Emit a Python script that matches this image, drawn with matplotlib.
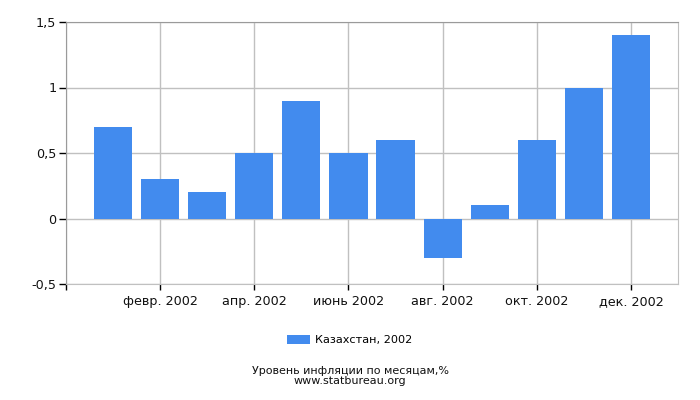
import numpy as np
import matplotlib
matplotlib.use("Agg")
import matplotlib.pyplot as plt

# ---------- DATA ----------
months = ["янв. 2002", "февр. 2002", "март 2002", "апр. 2002", "май 2002", "июнь 2002",
          "июль 2002", "авг. 2002", "сент. 2002", "окт. 2002", "нояб. 2002", "дек. 2002"]
values = [0.7, 0.3, 0.2, 0.5, 0.9, 0.5, 0.6, -0.3, 0.1, 0.6, 1.0, 1.4]
series_name = "Казахстан, 2002"
y_ticks = [-0.5, 0, 0.5, 1, 1.5]
y_labels = ["-0,5", "0", "0,5", "1", "1,5"]
title = "Уровень инфляции по месяцам,%\nwww.statbureau.org"
# --------------------------

BAR_COLOR = "#428bee"
GRID_COLOR = "#c0c0c0"
plt.rcParams["font.family"] = ["DejaVu Sans"]

fig = plt.figure(figsize=(7, 4), dpi=100)
ax = fig.add_axes([66 / 700, 1 - 284 / 400, 612 / 700, 262 / 400])

x = np.arange(len(values))
ax.bar(x, values, width=0.81, color=BAR_COLOR, label=series_name, zorder=2)

ax.set_xlim(-1, 12)
ax.set_ylim(-0.5, 1.5)

# ticks on every other month, plus left edge
xt = [-1] + list(x[1::2])
ax.set_xticks(xt)
ax.set_xticklabels([""] + months[1::2])
ax.set_yticks(y_ticks)
ax.set_yticklabels(y_labels)
ax.tick_params(axis="x", length=4, width=1, color="black", pad=4,
               labelcolor="#111111", labelsize=9.2)
ax.tick_params(axis="y", length=5, width=1, color="black", pad=2,
               labelcolor="#111111", labelsize=9.2)

ax.grid(True, color=GRID_COLOR, linewidth=1, zorder=0)
ax.set_axisbelow(True)
for side in ["top", "left"]:
    ax.spines[side].set_color("#9a9a9a")
for side in ["right", "bottom"]:
    ax.spines[side].set_color(GRID_COLOR)

fig.legend(loc="center", bbox_to_anchor=(350 / 700, 1 - 340 / 400), frameon=False,
           handlelength=2.0, handleheight=0.8, handletextpad=0.5, fontsize=8.1)
fig.text(350 / 700, 1 - 376 / 400, title, ha="center", va="center",
         fontsize=8.0, linespacing=0.9, color="#111111")

fig.savefig("out.png", dpi=100)
